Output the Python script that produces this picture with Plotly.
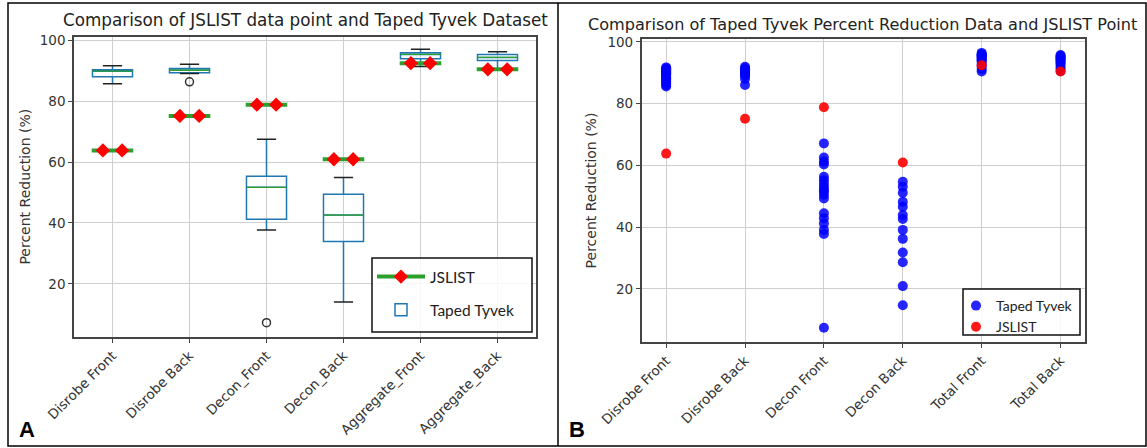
import plotly.graph_objects as go

# ---------------- data ----------------
categories_a = ["Disrobe Front", "Disrobe Back", "Decon_Front", "Decon_Back",
                "Aggregate_Front", "Aggregate_Back"]
categories_b = ["Disrobe Front", "Disrobe Back", "Decon Front", "Decon Back",
                "Total Front", "Total Back"]

# Taped Tyvek box statistics (panel A)
tyvek_low = [85.7, 89.0, 37.7, 14.1, 91.3, 90.6]
tyvek_q1 = [88.0, 89.3, 41.2, 33.9, 93.9, 93.3]
tyvek_median = [89.8, 90.1, 51.7, 42.6, 95.3, 94.3]
tyvek_q3 = [90.3, 90.7, 55.3, 49.4, 95.8, 95.3]
tyvek_high = [91.6, 92.1, 67.5, 54.9, 97.0, 96.2]
outlier_cat = [1, 2]
outlier_val = [86.3, 7.3]

# JSLIST single data point per category
jslist_values = [63.8, 75.1, 78.8, 60.9, 92.4, 90.4]

# Taped Tyvek individual points (panel B)
tyvek_disrobe_front = [85.5, 86.0, 86.6, 87.2, 87.8, 88.1, 88.5, 88.9, 89.3, 89.6,
                       89.8, 90.0, 90.2, 90.3, 90.5, 90.8, 91.1, 91.4, 91.7]
tyvek_disrobe_back = [86.0, 88.0, 89.0, 89.3, 89.6, 90.0, 90.2, 90.5, 90.7, 91.0,
                      91.4, 91.9]
tyvek_decon_front = [7.4, 37.8, 39.1, 41.2, 42.9, 44.5, 49.3, 50.5, 51.5, 52.0,
                     53.0, 54.0, 55.2, 56.3, 60.3, 61.2, 62.5, 67.1]
tyvek_decon_back = [14.7, 20.9, 28.6, 31.8, 36.2, 39.1, 42.6, 43.9, 46.6, 48.2,
                    51.1, 53.1, 54.7]
tyvek_total_front = [90.4, 91.2, 92.0, 92.8, 93.5, 93.9, 94.3, 94.7, 95.0, 95.3,
                     95.6, 95.8, 96.0, 96.4]
tyvek_total_back = [90.5, 91.4, 92.2, 92.9, 93.4, 93.8, 94.2, 94.5, 94.8, 95.1,
                    95.4, 95.7]

# ---------------- build ----------------
pos = list(range(len(categories_a)))
tyvek_sets = [tyvek_disrobe_front, tyvek_disrobe_back, tyvek_decon_front,
              tyvek_decon_back, tyvek_total_front, tyvek_total_back]

W, H = 1147, 448
FONT = "DejaVu Sans"
LFONT = "Lato"

fig = go.Figure()

# Panel A: Taped Tyvek boxes
fig.add_trace(go.Box(
    x=pos, q1=tyvek_q1, median=tyvek_median, q3=tyvek_q3,
    lowerfence=tyvek_low, upperfence=tyvek_high,
    name="Taped Tyvek", boxpoints=False, width=0.52, whiskerwidth=0,
    line=dict(color="#1f77b4", width=1.5), fillcolor="rgba(255,255,255,0)",
    xaxis="x", yaxis="y", legend="legend", legendrank=2, legendgroup="tyA",
    hoverinfo="skip"))

# medians (green)
mx, my = [], []
for p, m in zip(pos, tyvek_median):
    mx += [p - 0.26, p + 0.26, None]
    my += [m, m, None]
fig.add_trace(go.Scatter(x=mx, y=my, mode="lines", line=dict(color="#2ca02c", width=1.3),
                         showlegend=False, xaxis="x", yaxis="y", hoverinfo="skip"))
# caps (black)
cx, cy = [], []
for p, lo, hi in zip(pos, tyvek_low, tyvek_high):
    cx += [p - 0.125, p + 0.125, None, p - 0.125, p + 0.125, None]
    cy += [lo, lo, None, hi, hi, None]
fig.add_trace(go.Scatter(x=cx, y=cy, mode="lines", line=dict(color="#222", width=1.5),
                         showlegend=False, xaxis="x", yaxis="y", hoverinfo="skip"))
# outliers
fig.add_trace(go.Scatter(x=[pos[i] for i in outlier_cat], y=outlier_val, mode="markers",
                         marker=dict(symbol="circle-open", size=8, color="#333",
                                     line=dict(width=1.5)),
                         showlegend=False, xaxis="x", yaxis="y", hoverinfo="skip"))

# JSLIST in panel A: green bar with red diamonds at the cap ends
jx, jy, jsym = [], [], []
for p, v in zip(pos, jslist_values):
    jx += [p - 0.125, p - 0.27, p + 0.27, p + 0.125, None]
    jy += [v, v, v, v, None]
    jsym += ["diamond", "line-ew", "line-ew", "diamond", "diamond"]
fig.add_trace(go.Scatter(x=jx, y=jy, mode="lines+markers", name="JSLIST",
                         line=dict(color="#2ca02c", width=4),
                         marker=dict(symbol=jsym, size=11, color="#ff0000",
                                     line=dict(width=0)),
                         xaxis="x", yaxis="y", legend="legend", legendrank=1,
                         legendgroup="jsA", hoverinfo="skip"))

# Panel B scatter
bx, by = [], []
for p, vals in zip(pos, tyvek_sets):
    bx += [p] * len(vals)
    by += vals
fig.add_trace(go.Scatter(x=bx, y=by, mode="markers", name="Taped Tyvek",
                         marker=dict(color="rgb(0,0,255)", size=10, opacity=0.85),
                         xaxis="x2", yaxis="y2", legend="legend2"))
fig.add_trace(go.Scatter(x=pos, y=jslist_values, mode="markers", name="JSLIST",
                         marker=dict(color="rgb(255,0,0)", size=10, opacity=0.9),
                         xaxis="x2", yaxis="y2", legend="legend2"))

axis_common = dict(showgrid=True, gridcolor="#cfcfcf", gridwidth=1,
                   showline=True, mirror=True, linecolor="#444", linewidth=1.6,
                   ticks="outside", ticklen=4, tickcolor="#444", zeroline=False,
                   automargin=False,
                   tickfont=dict(family=FONT, size=13.5, color="#333"))

fig.update_layout(
    width=W, height=H, margin=dict(l=0, r=0, t=0, b=0, autoexpand=False),
    paper_bgcolor="white", plot_bgcolor="white",
    xaxis=dict(domain=[74 / W, 536 / W], range=[-0.5, 5.5], tickmode="array",
               tickvals=pos, ticktext=categories_a, tickangle=-45, anchor="y",
               **axis_common),
    yaxis=dict(domain=[1 - 336.7 / H, 1 - 36.7 / H], range=[2.7, 101.1], dtick=20,
               tick0=0, anchor="x",
               title=dict(text="Percent Reduction (%)", standoff=6,
                          font=dict(family=FONT, size=14, color="#333")),
               **axis_common),
    xaxis2=dict(domain=[641.7 / W, 1085 / W], range=[-0.31, 5.31], tickmode="array",
                tickvals=pos, ticktext=categories_b, tickangle=-45, anchor="y2",
                **axis_common),
    yaxis2=dict(domain=[1 - 341.7 / H, 1 - 39.3 / H], range=[2.9, 100.8], dtick=20,
                tick0=0, anchor="x2",
                title=dict(text="Percent Reduction (%)", standoff=8,
                           font=dict(family=FONT, size=14, color="#333")),
                **axis_common),
    legend=dict(x=372 / W, y=1 - 260 / H, xanchor="left", yanchor="top",
                bgcolor="rgba(0,0,0,0)", borderwidth=0,
                font=dict(family=LFONT, size=15.5, color="#222"),
                itemwidth=48, tracegroupgap=10, traceorder="grouped"),
    legend2=dict(x=956 / W, y=1 - 290 / H, xanchor="left", yanchor="top",
                 bgcolor="rgba(0,0,0,0)", borderwidth=0,
                 font=dict(family=LFONT, size=14, color="#222"),
                 itemwidth=30, tracegroupgap=0),
    showlegend=True,
)

fig.add_annotation(text="Comparison of JSLIST data point and Taped Tyvek Dataset",
                   x=305 / W, y=1 - 20 / H, xref="paper", yref="paper",
                   xanchor="center", yanchor="middle", showarrow=False,
                   font=dict(family=FONT, size=16.8, color="#222"))
fig.add_annotation(text="Comparison of Taped Tyvek Percent Reduction Data and JSLIST Point",
                   x=863 / W, y=1 - 25 / H, xref="paper", yref="paper",
                   xanchor="center", yanchor="middle", showarrow=False,
                   font=dict(family=FONT, size=16.1, color="#222"))
fig.add_annotation(text="<b>A</b>", x=27 / W, y=1 - 429 / H, xref="paper", yref="paper",
                   xanchor="center", yanchor="middle", showarrow=False,
                   font=dict(family="Liberation Sans", size=22, color="black"))
fig.add_annotation(text="<b>B</b>", x=577 / W, y=1 - 429 / H, xref="paper", yref="paper",
                   xanchor="center", yanchor="middle", showarrow=False,
                   font=dict(family="Liberation Sans", size=22, color="black"))

# legend frames (semi-opaque like matplotlib legends)
fig.add_shape(type="rect", xref="paper", yref="paper", layer="above",
              x0=372 / W, x1=532 / W, y0=1 - 332 / H, y1=1 - 258 / H,
              fillcolor="rgba(255,255,255,0.85)", line=dict(color="#111", width=1.5))
fig.add_shape(type="rect", xref="paper", yref="paper", layer="above",
              x0=963 / W, x1=1080 / W, y0=1 - 335 / H, y1=1 - 289 / H,
              fillcolor="rgba(255,255,255,0.85)", line=dict(color="#111", width=1.5))

# outer frame and divider
fig.add_shape(type="rect", xref="paper", yref="paper", x0=8 / W, x1=1146 / W,
              y0=1 - 446 / H, y1=1 - 3 / H, line=dict(color="black", width=1.5))
fig.add_shape(type="line", xref="paper", yref="paper", x0=558 / W, x1=558 / W,
              y0=1 - 446 / H, y1=1 - 3 / H, line=dict(color="black", width=1.5))

fig.write_html("out.html")
